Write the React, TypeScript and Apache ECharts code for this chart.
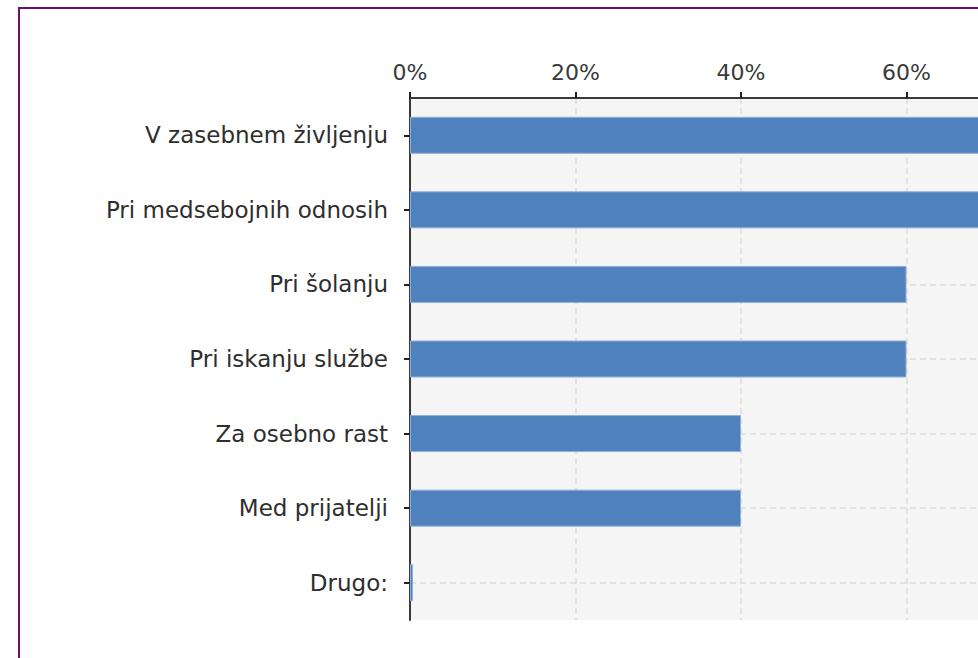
import React, { useEffect, useRef } from "react";
import * as echarts from "echarts";

const categories = [
  "V zasebnem življenju",
  "Pri medsebojnih odnosih",
  "Pri šolanju",
  "Pri iskanju službe",
  "Za osebno rast",
  "Med prijatelji",
  "Drugo:",
];
const values = [80, 80, 60, 60, 40, 40, 0];
const xTicks = [0, 20, 40, 60, 80, 100];
const visibleTickLabels = ["0%", "20%", "40%", "60%"];

export default function App() {
  const ref = useRef<HTMLDivElement>(null);
  useEffect(() => {
    if (!ref.current) return;
    const chart = echarts.init(ref.current, null, { renderer: "svg" });
    const font = "DejaVu Sans";
    chart.setOption({
      animation: false,
      backgroundColor: "#ffffff",
      graphic: [
        {
          type: "rect",
          shape: { x: 19, y: 8, width: 1000, height: 700 },
          style: { fill: "none", stroke: "#6c0f70", lineWidth: 2 },
          silent: true,
          z: 100,
        },
      ],
      grid: {
        left: 410,
        top: 98,
        height: 522,
        width: 827.5,
        outerBoundsMode: "none",
        containLabel: false,
        show: true,
        backgroundColor: "#f5f5f5",
        borderWidth: 0,
      },
      xAxis: {
        type: "value",
        position: "top",
        min: xTicks[0],
        max: xTicks[xTicks.length - 1],
        interval: 20,
        axisLine: { show: true, lineStyle: { color: "#3a3a3a", width: 2 } },
        axisTick: { show: true, length: 6, lineStyle: { color: "#222", width: 2 } },
        axisLabel: {
          formatter: (v: number) => {
            const s = v + "%";
            return visibleTickLabels.indexOf(s) >= 0 ? s : "";
          },
          fontFamily: font,
          fontSize: 22,
          color: "#3a3a3a",
          margin: 15,
        },
        splitLine: { show: true, lineStyle: { color: "#dcdcdc", type: [6, 4], width: 1.5 } },
      },
      yAxis: {
        type: "category",
        inverse: true,
        data: categories,
        axisLine: { show: true, lineStyle: { color: "#3a3a3a", width: 2 } },
        axisTick: { show: true, alignWithLabel: true, length: 6, lineStyle: { color: "#222", width: 2 } },
        axisLabel: {
          fontFamily: font,
          fontSize: 23,
          color: "#2e2e2e",
          margin: 22,
        },
        splitLine: { show: false },
      },
      series: [
        {
          type: "bar",
          data: values,
          barWidth: 37,
          barMinHeight: 3,
          itemStyle: { color: "#4f81bd", borderColor: "#8fb0d8", borderWidth: 1 },
          z: 3,
          markLine: {
            silent: true,
            symbol: "none",
            z: 1,
            label: { show: false },
            lineStyle: { color: "#dcdcdc", type: [6, 4], width: 1.5 },
            data: categories.map((c) => ({ yAxis: c })),
          },
        },
      ],
    });
    return () => chart.dispose();
  }, []);
  return (
    <div
      ref={ref}
      style={{ position: "fixed", left: 0, top: 0, width: 978, height: 658 }}
    />
  );
}
